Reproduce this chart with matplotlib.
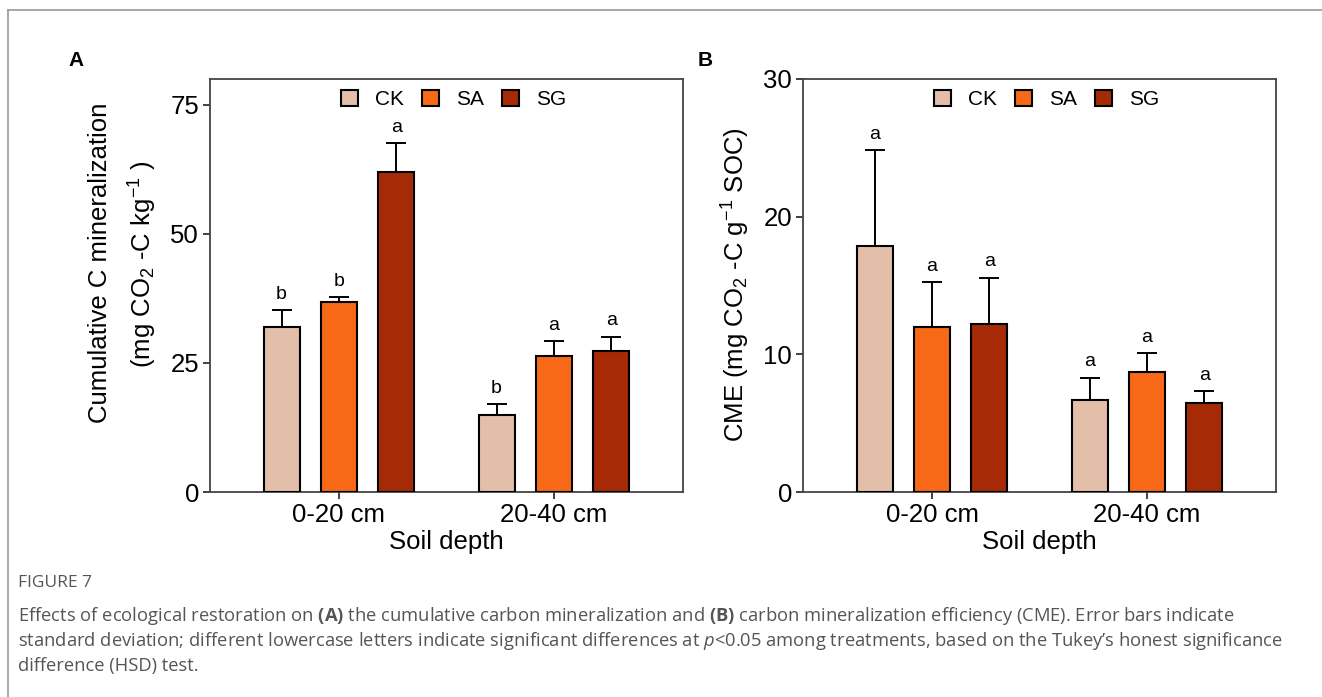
import matplotlib
matplotlib.use("Agg")
import matplotlib.pyplot as plt
from matplotlib.patches import Patch
from matplotlib.lines import Line2D
import numpy as np

plt.rcParams['font.family'] = ['Liberation Sans', 'DejaVu Sans']
plt.rcParams['mathtext.default'] = 'regular'
plt.rcParams['mathtext.fontset'] = 'custom'
plt.rcParams['mathtext.bf'] = 'Open Sans:bold'
plt.rcParams['mathtext.it'] = 'Open Sans:italic'

# data
depths = ['0-20 cm', '20-40 cm']
treatments = ['CK', 'SA', 'SG']
colors = ['#E3BFAA', '#F76817', '#A52A05']

# panel A: cumulative C mineralization
cum_mean = {'CK': [31.9, 14.9], 'SA': [36.8, 26.3], 'SG': [61.9, 27.3]}
cum_sd = {'CK': [3.3, 2.2], 'SA': [1.0, 2.9], 'SG': [5.7, 2.8]}
cum_letters = {'CK': ['b', 'b'], 'SA': ['b', 'a'], 'SG': ['a', 'a']}

# panel B: CME
cme_mean = {'CK': [17.87, 6.68], 'SA': [11.97, 8.75], 'SG': [12.21, 6.47]}
cme_sd = {'CK': [6.99, 1.63], 'SA': [3.28, 1.35], 'SG': [3.37, 0.85]}
cme_letters = {'CK': ['a', 'a'], 'SA': ['a', 'a'], 'SG': ['a', 'a']}

W, H = 1322, 697
fig = plt.figure(figsize=(W / 100, H / 100), dpi=100)

def px(x0, y0, w, h):
    # pixel box (left, top, width, height) -> figure fraction
    return [x0 / W, 1 - (y0 + h) / H, w / W, h / H]

axA = fig.add_axes(px(210, 79, 473, 413))
axB = fig.add_axes(px(803, 79, 473, 413))

offsets = [-0.267, 0, 0.267]
barw = 0.168
xpos = np.arange(1, len(depths) + 1)

def draw_panel(ax, means, sds, letters, ylim, yticks):
    for i, t in enumerate(treatments):
        x = xpos + offsets[i]
        ax.errorbar(x, means[t], yerr=[np.zeros(len(x)), sds[t]], fmt='none',
                    ecolor='black', elinewidth=1.4, capsize=7.5, capthick=1.4, zorder=2)
        ax.bar(x, means[t], width=barw, color=colors[i], edgecolor='black',
               linewidth=1.5, zorder=3)
        for xx, m, s, lab in zip(x, means[t], sds[t], letters[t]):
            ax.annotate(lab, (xx, m + s), xytext=(0, 8), textcoords='offset points',
                        ha='center', va='baseline', fontsize=14)
    ax.set_xlim(0.4, 2.6)
    ax.set_ylim(*ylim)
    ax.set_yticks(yticks)
    ax.set_xticks(xpos)
    ax.set_xticklabels(depths)
    ax.tick_params(axis='both', labelsize=18.5, length=5, width=1.3,
                   color='#333333', pad=3)
    for sp in ax.spines.values():
        sp.set_color('#444444')
        sp.set_linewidth(1.3)
    ax.set_xlabel('Soil depth', fontsize=18.5, labelpad=2)
    handles = [Patch(facecolor=c, edgecolor='black', linewidth=1.5) for c in colors]
    ax.legend(handles, treatments, ncol=3, loc='center', bbox_to_anchor=(0.515, 0.95),
              frameon=False, fontsize=15, handlelength=0.8, handleheight=0.8,
              handletextpad=0.8, columnspacing=0.9, borderaxespad=0)

draw_panel(axA, cum_mean, cum_sd, cum_letters, (0, 80), [0, 25, 50, 75])
draw_panel(axB, cme_mean, cme_sd, cme_letters, (0, 30), [0, 10, 20, 30])

# y axis titles
fig.text(100 / W, 1 - 263 / H, 'Cumulative C mineralization', rotation=90,
         ha='center', va='center', fontsize=18.5)
fig.text(143 / W, 1 - 264 / H, r'(mg CO$_2$ -C kg$^{-1}$ )', rotation=90,
         ha='center', va='center', fontsize=18.5)
fig.text(736 / W, 1 - 285 / H, r'CME (mg CO$_2$ -C g$^{-1}$ SOC)', rotation=90,
         ha='center', va='center', fontsize=18.5)

# panel letters
fig.text(76 / W, 1 - 61 / H, 'A', fontsize=15, fontweight='bold', ha='center', va='center')
fig.text(705 / W, 1 - 61 / H, 'B', fontsize=15, fontweight='bold', ha='center', va='center')

# outer frame (top and left only)
fig.add_artist(Line2D([8 / W, 1], [1 - 10 / H, 1 - 10 / H], color='#9a9a9a', lw=1.2,
                      transform=fig.transFigure))
fig.add_artist(Line2D([8 / W, 8 / W], [0, 1 - 10 / H], color='#9a9a9a', lw=1.2,
                      transform=fig.transFigure))

# caption
capfont = ['Open Sans', 'DejaVu Sans']
fig.text(18 / W, 1 - 583 / H, 'FIGURE 7', fontsize=12.5, color='#555555',
         family=capfont, va='center')
caption = [
    r'Effects of ecological restoration on $\mathbf{(A)}$ the cumulative carbon mineralization and $\mathbf{(B)}$ carbon mineralization efficiency (CME). Error bars indicate',
    r'standard deviation; different lowercase letters indicate significant differences at $\mathit{p}$<0.05 among treatments, based on the Tukey' + '\u2019' + 's honest significance',
    'difference (HSD) test.',
]
for k, line in enumerate(caption):
    fig.text(18 / W, 1 - (616 + 25 * k) / H, line, fontsize=13.2, color='#555555',
             family=capfont, va='center')

fig.savefig('out.png', dpi=100)
